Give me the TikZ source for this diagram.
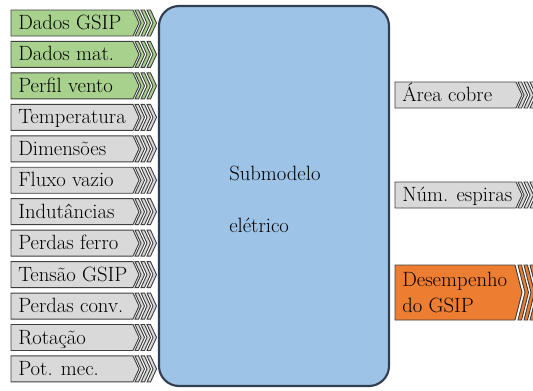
\documentclass[tikz,border=0pt]{standalone}
\definecolor{gfill}{HTML}{A9D18E}
\definecolor{lgfill}{HTML}{D9D9D9}
\definecolor{ofill}{HTML}{ED7D31}
\definecolor{bfill}{HTML}{9DC3E6}
\definecolor{bline}{HTML}{333F50}
\definecolor{oline}{HTML}{404040}
\tikzset{
  boxline/.style={draw=oline,line width=0.7pt,line join=miter},
  lbl/.style={inner sep=0pt,font=\fontsize{15.5}{20}\selectfont,text=black},
  mainbox/.style={draw=bline,line width=1.6pt,fill=bfill,rounded corners=15pt}
}
\newcommand\sigbox[7]{%
  \pgfmathsetmacro\yt{#4-#5}\pgfmathsetmacro\yb{#4+#5}%
  \draw[boxline,fill=#6] (#2,\yt) -- (#3,\yt) -- (#3+6,#4) -- (#3,\yb) -- (#2,\yb) -- cycle;
  \foreach \i in {0,1,2}{%
    \pgfmathsetmacro\xa{#3+2+6*\i}%
    \draw[boxline,fill=#6] (\xa,\yt) -- (\xa+3.5,\yt) -- (\xa+9.5,#4) -- (\xa+3.5,\yb) -- (\xa,\yb) -- (\xa+6,#4) -- cycle;}
  \node[lbl,anchor=base west] (#1) at (#2+7,#4+6.5) {#7};
}
\begin{document}
\begin{tikzpicture}[x=0.75pt,y=-0.75pt]
\useasboundingbox (0,0) rectangle (533,390);
\clip (0,0) rectangle (533,390);
\fill[white] (0,0) rectangle (533,390);
\sigbox{i1}{11}{133}{23}{13}{gfill}{Dados GSIP}
\sigbox{i2}{11}{133}{54.45}{13}{gfill}{Dados mat.}
\sigbox{i3}{11}{133}{85.9}{13}{gfill}{Perfil vento}
\sigbox{i4}{11}{133}{117.35}{13}{lgfill}{Temperatura}
\sigbox{i5}{11}{133}{148.8}{13}{lgfill}{Dimensões}
\sigbox{i6}{11}{133}{180.25}{13}{lgfill}{Fluxo vazio}
\sigbox{i7}{11}{133}{211.7}{13}{lgfill}{Indutâncias}
\sigbox{i8}{11}{133}{243.15}{13}{lgfill}{Perdas ferro}
\sigbox{i9}{11}{133}{274.6}{13}{lgfill}{Tensão GSIP}
\sigbox{i10}{11}{133}{306.05}{13}{lgfill}{Perdas conv.}
\sigbox{i11}{11}{133}{337.5}{13}{lgfill}{Rotação}
\sigbox{i12}{11}{133}{368.95}{13}{lgfill}{Pot. mec.}
\draw[mainbox] (159,6) rectangle (389,386);
\node[lbl,anchor=base west] (t1) at (229,180) {Submodelo};
\node[lbl,anchor=base west] (t2) at (229,232.5) {elétrico};
\sigbox{o1}{395}{516}{95}{13}{lgfill}{Área cobre}
\sigbox{o2}{395}{516}{195}{13}{lgfill}{Núm. espiras}
\draw[boxline,fill=ofill] (395,265) -- (515,265) -- (522,292.5) -- (515,320) -- (395,320) -- cycle;
\foreach \i in {0,1,2}{%
  \pgfmathsetmacro\xa{518+6*\i}%
  \draw[boxline,fill=ofill] (\xa,265) -- (\xa+3.5,265) -- (\xa+10.5,292.5) -- (\xa+3.5,320) -- (\xa,320) -- (\xa+7,292.5) -- cycle;}
\node[lbl,anchor=base west] (o3a) at (402,286.5) {Desempenho};
\node[lbl,anchor=base west] (o3b) at (402,312.5) {do GSIP};
\end{tikzpicture}
\end{document}
